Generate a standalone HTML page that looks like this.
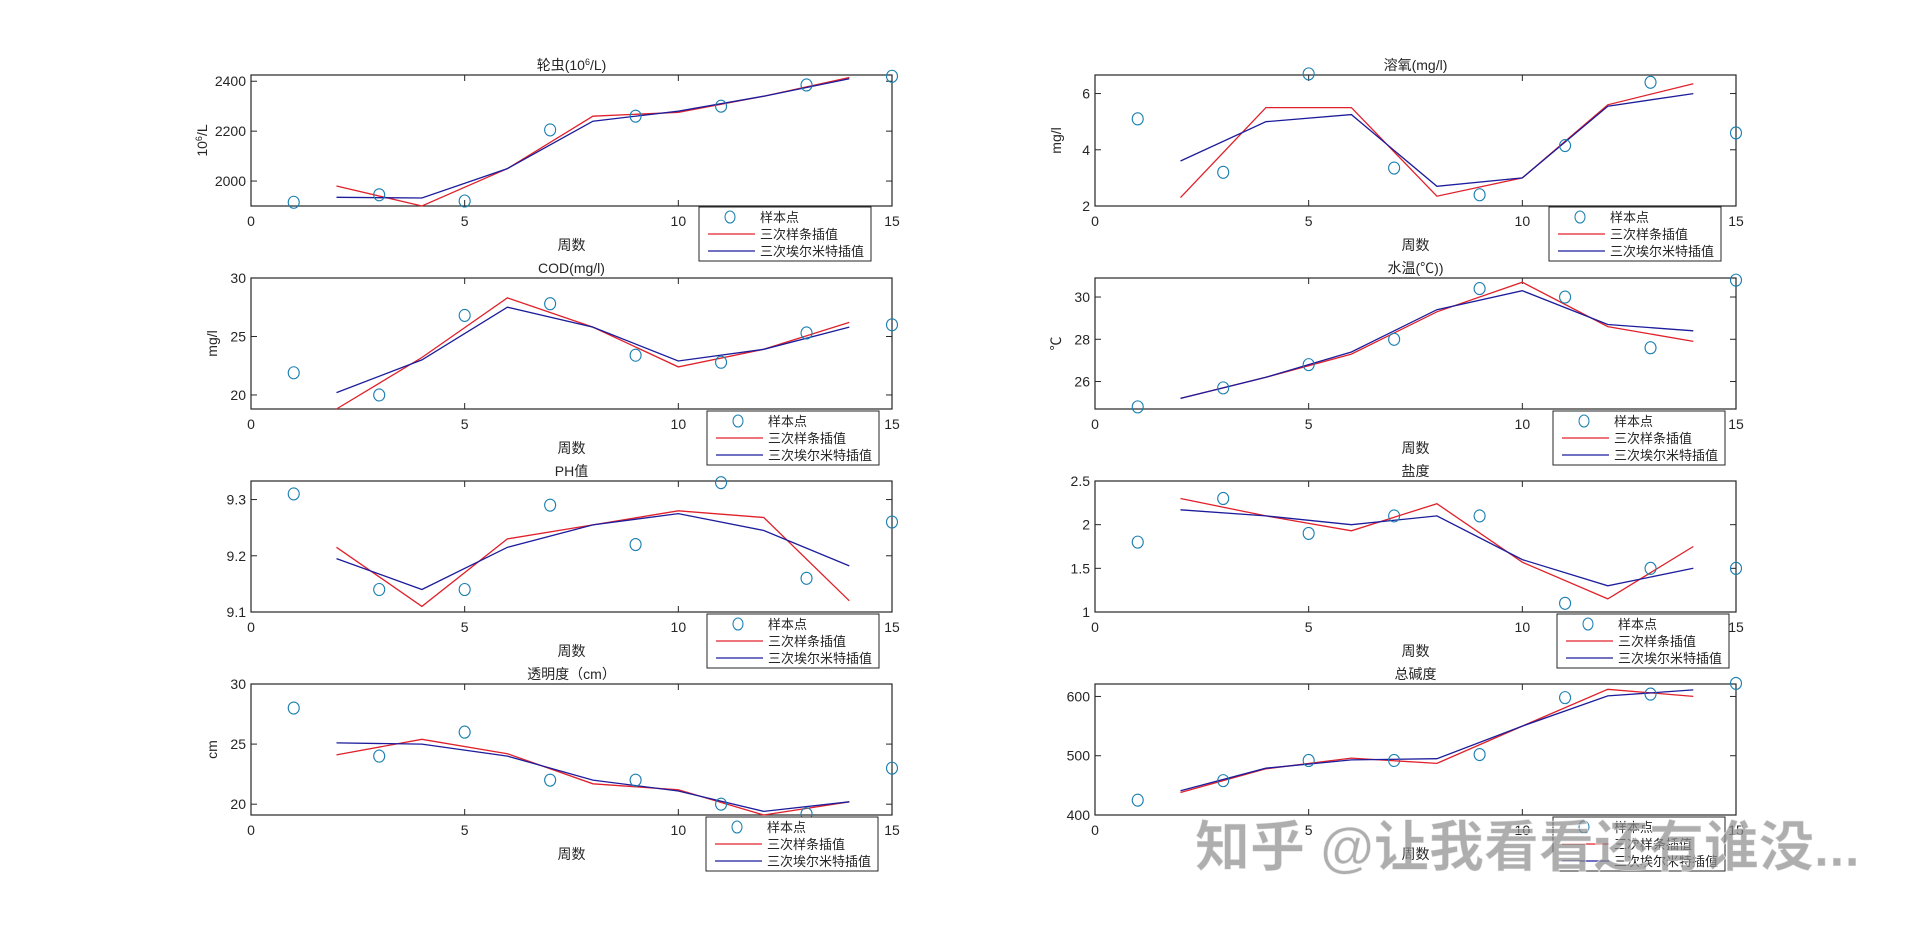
<!DOCTYPE html>
<html><head><meta charset="utf-8">
<style>
html,body{margin:0;padding:0;background:#fff;}
svg{display:block;font-family:"Liberation Sans","Noto Sans CJK SC",sans-serif;}
</style></head>
<body>
<svg id="s" width="1920" height="927" viewBox="0 0 1920 927" xmlns="http://www.w3.org/2000/svg"></svg>
<script>
var P=[
{x:251,y:75,t:"轮虫(10<tspan baseline-shift='super' font-size='9'>6</tspan>/L)",yl:"10<tspan baseline-shift='super' font-size='9'>6</tspan>/L",yo:44,lim:[1900,2425],ticks:[2000,2200,2400],
 s:[1915,1945,1920,2205,2260,2300,2385,2420],r:[1980,1900,2050,2260,2275,2340,2415],b:[1935,1932,2050,2240,2280,2340,2410],lg:[699,207]},
{x:251,y:278,t:"COD(mg/l)",yl:"mg/l",lim:[18.8,30],ticks:[20,25,30],
 s:[21.9,20,26.8,27.8,23.4,22.8,25.3,26],r:[18.8,23.2,28.3,25.8,22.4,23.9,26.2],b:[20.2,23.0,27.5,25.8,22.9,23.9,25.8],lg:[707,411]},
{x:251,y:481,t:"PH值",yl:"",lim:[9.1,9.333],ticks:[9.1,9.2,9.3],
 s:[9.31,9.14,9.14,9.29,9.22,9.33,9.16,9.26],r:[9.215,9.11,9.23,9.255,9.28,9.268,9.12],b:[9.195,9.14,9.215,9.255,9.275,9.245,9.182],lg:[707,614]},
{x:251,y:684,t:"透明度（cm）",yl:"cm",lim:[19.1,30],ticks:[20,25,30],
 s:[28,24,26,22,22,20,19.2,23],r:[24.1,25.4,24.2,21.7,21.2,19.1,20.2],b:[25.1,25.0,24.0,22.0,21.1,19.4,20.2],lg:[706,817]},
{x:1095,y:75,t:"溶氧(mg/l)",yl:"mg/l",lim:[2,6.66],ticks:[2,4,6],
 s:[5.1,3.2,6.7,3.35,2.4,4.15,6.4,4.6],r:[2.3,5.5,5.5,2.35,3.0,5.6,6.35],b:[3.6,5.0,5.25,2.7,3.0,5.55,6.0],lg:[1549,207]},
{x:1095,y:278,t:"水温(℃))",yl:"℃",lim:[24.7,30.9],ticks:[26,28,30],
 s:[24.8,25.7,26.8,28,30.4,30,27.6,30.8],r:[25.2,26.2,27.3,29.3,30.7,28.6,27.9],b:[25.2,26.2,27.4,29.4,30.3,28.7,28.4],lg:[1553,411]},
{x:1095,y:481,t:"盐度",yl:"",lim:[1,2.5],ticks:[1,1.5,2,2.5],
 s:[1.8,2.3,1.9,2.1,2.1,1.1,1.5,1.5],r:[2.3,2.1,1.93,2.24,1.57,1.15,1.75],b:[2.17,2.1,2.0,2.1,1.6,1.3,1.5],lg:[1557,614]},
{x:1095,y:684,t:"总碱度",yl:"",lim:[400,621],ticks:[400,500,600],
 s:[425,458,492,492,502,598,604,622],r:[438,478,496,487,550,612,600],b:[441,479,493,495,550,601,611],lg:[1553,817]}
];
var W=641,H=131,o="";
P.forEach(function(p){
 var X=function(v){return p.x+v/15*W},Y=function(v){return p.y+H-(v-p.lim[0])/(p.lim[1]-p.lim[0])*H};
 o+='<rect x="'+p.x+'" y="'+p.y+'" width="'+W+'" height="'+H+'" fill="#fff" stroke="#262626" stroke-width="1.2"/>';
 [0,5,10,15].forEach(function(t){var x=X(t);
  o+='<line x1="'+x+'" y1="'+(p.y+H)+'" x2="'+x+'" y2="'+(p.y+H-6)+'" stroke="#262626"/><line x1="'+x+'" y1="'+p.y+'" x2="'+x+'" y2="'+(p.y+6)+'" stroke="#262626"/>';
  o+='<text x="'+x+'" y="'+(p.y+H+20)+'" font-size="14" fill="#262626" text-anchor="middle">'+t+'</text>';});
 p.ticks.forEach(function(t){var y=Y(t);
  o+='<line x1="'+p.x+'" y1="'+y+'" x2="'+(p.x+6)+'" y2="'+y+'" stroke="#262626"/><line x1="'+(p.x+W)+'" y1="'+y+'" x2="'+(p.x+W-6)+'" y2="'+y+'" stroke="#262626"/>';
  o+='<text x="'+(p.x-5)+'" y="'+(y+5)+'" font-size="14" fill="#262626" text-anchor="end">'+t+'</text>';});
 o+='<text x="'+(p.x+W/2)+'" y="'+(p.y-5)+'" font-size="14" fill="#262626" text-anchor="middle">'+p.t+'</text>';
 o+='<text x="'+(p.x+W/2)+'" y="'+(p.y+H+44)+'" font-size="14" fill="#262626" text-anchor="middle">周数</text>';
 if(p.yl)o+='<text transform="translate('+(p.x-(p.yo||34))+','+(p.y+H/2)+') rotate(-90)" font-size="14" fill="#262626" text-anchor="middle">'+p.yl+'</text>';
 var pl=function(a,c){var q=a.map(function(v,i){return X(2+2*i).toFixed(1)+','+Y(v).toFixed(1)}).join(' ');
  return '<polyline points="'+q+'" fill="none" stroke="'+c+'" stroke-width="1.3"/>';};
 o+=pl(p.r,"#e0202a")+pl(p.b,"#1c1c9c");
 p.s.forEach(function(v,i){o+='<ellipse cx="'+X(1+2*i)+'" cy="'+Y(v)+'" rx="5.5" ry="6" fill="none" stroke="#1a7fb0" stroke-width="1.1"/>';});
 var lx=p.lg[0],ly=p.lg[1];
 o+='<rect x="'+lx+'" y="'+ly+'" width="172" height="54" fill="#fff" stroke="#262626"/>';
 o+='<ellipse cx="'+(lx+31)+'" cy="'+(ly+10)+'" rx="5" ry="6" fill="none" stroke="#1a7fb0"/>';
 o+='<line x1="'+(lx+9)+'" y1="'+(ly+27)+'" x2="'+(lx+56)+'" y2="'+(ly+27)+'" stroke="#e0202a" stroke-width="1.3"/>';
 o+='<line x1="'+(lx+9)+'" y1="'+(ly+44)+'" x2="'+(lx+56)+'" y2="'+(ly+44)+'" stroke="#1c1c9c" stroke-width="1.3"/>';
 ["样本点","三次样条插值","三次埃尔米特插值"].forEach(function(s,i){
  o+='<text x="'+(lx+61)+'" y="'+(ly+15+17*i)+'" font-size="13" fill="#262626">'+s+'</text>';});
});
o+='<text x="1195" y="866" font-size="55" font-weight="bold" fill="rgba(140,140,140,0.7)" stroke="rgba(255,255,255,0.6)" stroke-width="1">知乎 @让我看看还有谁没...</text>';
document.getElementById("s").innerHTML=o;
</script>
</body></html>
